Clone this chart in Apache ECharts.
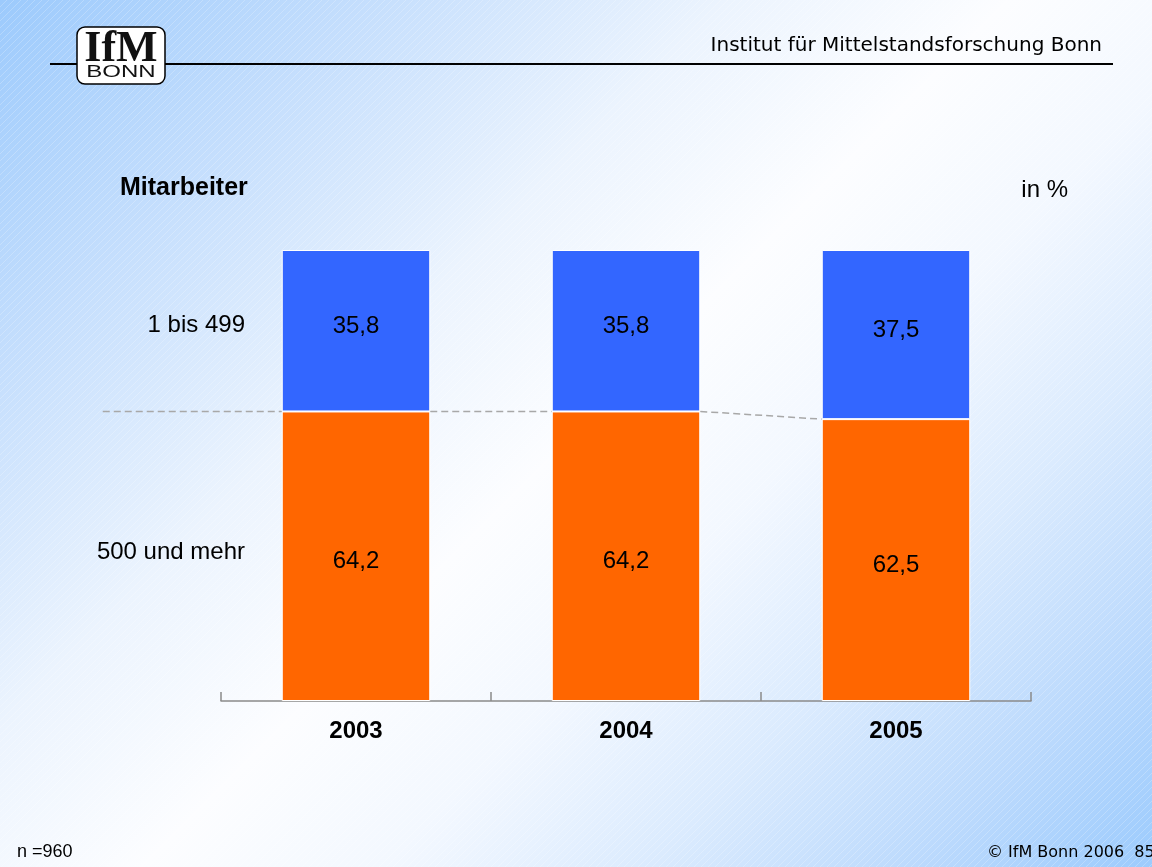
<!DOCTYPE html>
<html>
<head>
<meta charset="utf-8">
<title>Mitarbeiter</title>
<script src="https://cdn.jsdelivr.net/npm/echarts@6/dist/echarts.min.js"></script>
<style>
  html, body { margin: 0; padding: 0; background: #fff; }
  #chart { width: 1152px; height: 867px; }
</style>
</head>
<body>
<div id="chart"></div>
<script>
// Daten
const years = ['2003', '2004', '2005'];
const share500Plus = [64.2, 64.2, 62.5];   // 500 und mehr
const share1to499 = [35.8, 35.8, 37.5];    // 1 bis 499
const seriesNames = ['500 und mehr', '1 bis 499'];

const fmt = v => v.toFixed(1).replace('.', ',');

// feine Diagonalstreifen im Hintergrund
const stripe = document.createElement('canvas');
stripe.width = 7;
stripe.height = 7;
const sctx = stripe.getContext('2d');
sctx.strokeStyle = 'rgba(255,255,255,0.22)';
sctx.lineWidth = 1;
sctx.beginPath();
sctx.moveTo(-1, 8);
sctx.lineTo(8, -1);
sctx.stroke();

const chart = echarts.init(document.getElementById('chart'));

const labelFont = { fontFamily: 'Liberation Sans, Arial, sans-serif', fontSize: 24, color: '#000' };

var option = {
  animation: false,
  grid: { left: 221, right: 121, top: 250, bottom: 166 },
  xAxis: {
    type: 'category',
    data: years,
    axisLine: { lineStyle: { color: '#8a8a8a', width: 1.5 } },
    axisTick: { show: true, inside: true, length: 9, lineStyle: { color: '#8a8a8a', width: 1.5 } },
    axisLabel: { margin: 18, fontWeight: 'bold', fontFamily: 'Liberation Sans, Arial, sans-serif', fontSize: 24, color: '#000' }
  },
  yAxis: {
    type: 'value',
    min: 0,
    max: 100,
    show: false,
    splitLine: { show: false }
  },
  series: [
    {
      name: seriesNames[0],
      type: 'bar',
      stack: 'total',
      data: share500Plus,
      barWidth: '55%',
      itemStyle: { color: '#ff6600', borderColor: '#ffffff', borderWidth: 1 },
      label: { show: true, position: 'inside', offset: [0, 5], formatter: p => fmt(p.value), ...labelFont }
    },
    {
      name: seriesNames[1],
      type: 'bar',
      stack: 'total',
      data: share1to499,
      barWidth: '55%',
      itemStyle: { color: '#3366ff', borderColor: '#ffffff', borderWidth: 1 },
      label: { show: true, position: 'inside', offset: [0, -4], formatter: p => fmt(p.value), ...labelFont }
    },
    {
      // gestrichelte Verbindungslinie der Segmentgrenzen
      type: 'custom',
      silent: true,
      z: 1,
      data: share500Plus.map((v, i) => [i, v, i > 0 ? share500Plus[i - 1] : v]),
      renderItem: function (params, api) {
        const idx = api.value(0);
        const cur = api.coord([idx, api.value(1)]);
        const half = api.size([1, 0])[0] * 0.55 / 2;
        let start;
        if (idx === 0) {
          start = [cur[0] - half - 179, cur[1]];
        } else {
          const prev = api.coord([idx - 1, api.value(2)]);
          start = [prev[0] + half, prev[1]];
        }
        return {
          type: 'line',
          shape: { x1: start[0], y1: start[1], x2: cur[0] - half, y2: cur[1] },
          style: { stroke: '#a8a8a8', lineWidth: 1.5, lineDash: [7, 4] }
        };
      }
    }
  ],
  graphic: []
};

chart.setOption(option);

// Segmentbeschriftungen links, an der Mitte der ersten Säule ausgerichtet
const yMid500 = chart.convertToPixel({ yAxisIndex: 0 }, share500Plus[0] / 2);
const yMid1 = chart.convertToPixel({ yAxisIndex: 0 }, share500Plus[0] + share1to499[0] / 2);

chart.setOption({
  graphic: [
    {
      type: 'rect', z: -20, silent: true,
      shape: { x: 0, y: 0, width: 1152, height: 867 },
      style: {
        fill: new echarts.graphic.LinearGradient(0, 0, 1009.5, 1009.5, [
          { offset: 0, color: '#9ccafc' },
          { offset: 0.18, color: '#c4defd' },
          { offset: 0.36, color: '#ecf4fe' },
          { offset: 0.5, color: '#fcfdff' },
          { offset: 0.62, color: '#f3f8ff' },
          { offset: 0.75, color: '#dbebfe' },
          { offset: 0.88, color: '#bcdafd' },
          { offset: 1, color: '#9ccbfd' }
        ], true)
      }
    },
    {
      type: 'rect', z: -19, silent: true,
      shape: { x: 0, y: 0, width: 1152, height: 867 },
      style: { fill: { image: stripe, repeat: 'repeat' } }
    },
    // Kopfzeile
    {
      type: 'line', z: 1,
      shape: { x1: 50, y1: 64, x2: 1113, y2: 64 },
      style: { stroke: '#000', lineWidth: 2 }
    },
    {
      type: 'rect', z: 2,
      shape: { x: 77, y: 27, width: 88, height: 57, r: 8 },
      style: { fill: '#fff', stroke: '#000', lineWidth: 1.5 }
    },
    {
      type: 'text', z: 3, x: 121, y: 50,
      style: { text: 'IfM', font: 'bold 44px "Liberation Serif", serif', fill: '#111', align: 'center', verticalAlign: 'middle' }
    },
    {
      type: 'text', z: 3, x: 121, y: 73, scaleX: 1.5, originX: 0, originY: 0,
      style: { text: 'BONN', font: '16px "Liberation Sans", Arial, sans-serif', fill: '#111', align: 'center', verticalAlign: 'middle' }
    },
    {
      type: 'text', z: 3, x: 1102, y: 46,
      style: { text: 'Institut für Mittelstandsforschung Bonn', font: '20px "DejaVu Sans", sans-serif', fill: '#000', align: 'right', verticalAlign: 'middle' }
    },
    // Titel
    {
      type: 'text', x: 120, y: 188,
      style: { text: 'Mitarbeiter', font: 'bold 25px "Liberation Sans", Arial, sans-serif', fill: '#000', verticalAlign: 'middle' }
    },
    {
      type: 'text', x: 1068, y: 190,
      style: { text: 'in %', font: '24px "Liberation Sans", Arial, sans-serif', fill: '#000', align: 'right', verticalAlign: 'middle' }
    },
    {
      type: 'text', x: 245, y: yMid1 - 5,
      style: { text: seriesNames[1], font: '24px "Liberation Sans", Arial, sans-serif', fill: '#000', align: 'right', verticalAlign: 'middle' }
    },
    {
      type: 'text', x: 245, y: yMid500 - 4,
      style: { text: seriesNames[0], font: '24px "Liberation Sans", Arial, sans-serif', fill: '#000', align: 'right', verticalAlign: 'middle' }
    },
    // Fußzeile
    {
      type: 'text', x: 17, y: 852,
      style: { text: 'n =960', font: '18px "Liberation Sans", Arial, sans-serif', fill: '#000', verticalAlign: 'middle' }
    },
    {
      type: 'text', x: 987, y: 853,
      style: { text: '© IfM Bonn 2006  85-9', font: '16px "DejaVu Sans", sans-serif', fill: '#000', verticalAlign: 'middle' }
    }
  ]
});
</script>
</body>
</html>
